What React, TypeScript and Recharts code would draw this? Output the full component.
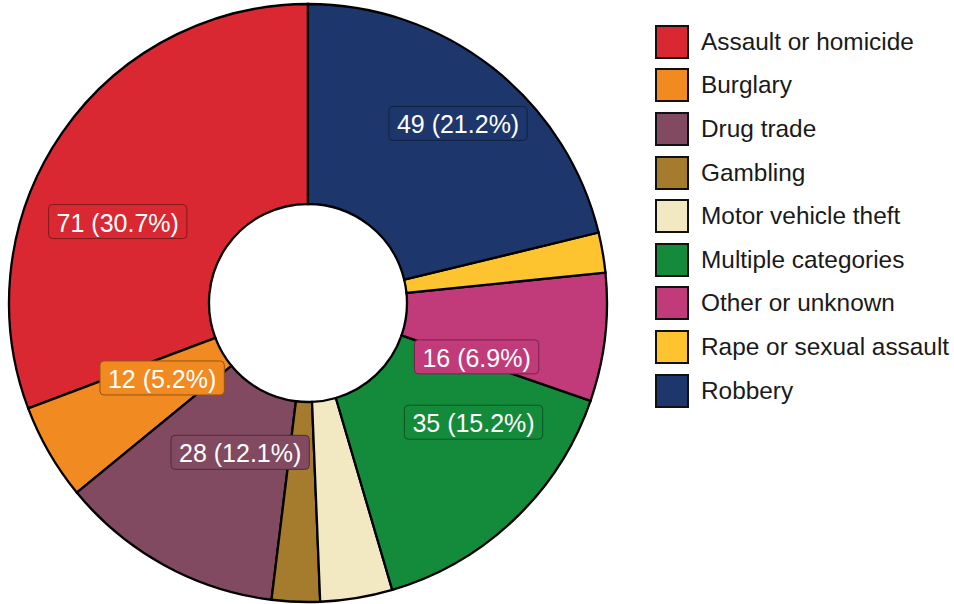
import { Cell, Legend, Pie, PieChart } from "recharts";

const categories = [
  "Assault or homicide",
  "Burglary",
  "Drug trade",
  "Gambling",
  "Motor vehicle theft",
  "Multiple categories",
  "Other or unknown",
  "Rape or sexual assault",
  "Robbery",
];
const counts = [71, 12, 28, 6, 9, 35, 16, 5, 49];
const colors = [
  "#DA2833",
  "#F28A22",
  "#824A61",
  "#A57B2D",
  "#F2E8C2",
  "#138B3A",
  "#C13B7B",
  "#FDC42F",
  "#1D376C",
];

// label nudge (degrees off the slice middle, distance from centre), like a repel pass
const labelNudge = [
  { dAngle: 11.5, r: 207 },
  { dAngle: -2.8, r: 164 },
  { dAngle: 4.4, r: 164 },
  { dAngle: 0, r: 200 },
  { dAngle: 0, r: 200 },
  { dAngle: 10.6, r: 204 },
  { dAngle: -11.1, r: 177 },
  { dAngle: 0, r: 200 },
  { dAngle: -1.7, r: 234 },
];

const total = counts.reduce((a, b) => a + b, 0);
const data = categories.map((name, i) => ({ name, value: counts[i] }));

const FONT = "'Liberation Sans', Arial, sans-serif";
const RAD = Math.PI / 180;

const charW: Record<string, number> = {
  " ": 0.278,
  "(": 0.333,
  ")": 0.333,
  ".": 0.278,
  "%": 0.889,
};
function textWidth(s: string, size: number): number {
  let w = 0;
  for (const ch of s) w += charW[ch] ?? 0.556;
  return w * size;
}

function darken(hex: string, k: number): string {
  const n = parseInt(hex.slice(1), 16);
  const r = Math.round(((n >> 16) & 255) * k);
  const g = Math.round(((n >> 8) & 255) * k);
  const b = Math.round((n & 255) * k);
  return `rgb(${r},${g},${b})`;
}

function renderLabel(props: any) {
  const { cx, cy, midAngle, index, value } = props;
  if (value / total <= 0.05) return null;
  const nudge = labelNudge[index];
  const a = (midAngle + nudge.dAngle) * RAD;
  const x = cx + nudge.r * Math.cos(a);
  const y = cy - nudge.r * Math.sin(a);
  const text = `${value} (${((value / total) * 100).toFixed(1)}%)`;
  const w = textWidth(text, 25) + 16;
  const h = 34;
  return (
    <g key={`lab-${index}`}>
      <rect
        x={x - w / 2}
        y={y - h / 2}
        width={w}
        height={h}
        rx={4}
        fill={colors[index]}
        stroke={darken(colors[index], 0.6)}
        strokeWidth={1}
      />
      <text
        x={x}
        y={y + 1}
        textAnchor="middle"
        dominantBaseline="central"
        fill="#fff"
        fontSize={25}
        fontFamily={FONT}
      >
        {text}
      </text>
    </g>
  );
}

function renderLegend() {
  return (
    <div style={{ fontFamily: FONT }}>
      {categories.map((c, i) => (
        <div
          key={c}
          style={{ display: "flex", alignItems: "center", height: 43.6 }}
        >
          <div
            style={{
              width: 34,
              height: 34,
              boxSizing: "border-box",
              border: "2.5px solid #111",
              background: colors[i],
            }}
          />
          <span style={{ marginLeft: 12, fontSize: 24.4, color: "#1a1a1a" }}>{c}</span>
        </div>
      ))}
    </div>
  );
}

export default function App() {
  return (
    <div style={{ position: "absolute", left: 0, top: 0, background: "#fff" }}>
      <PieChart width={954} height={604} margin={{ top: 0, right: 0, bottom: 0, left: 0 }}>
        <Pie
          data={data}
          dataKey="value"
          nameKey="name"
          cx={308}
          cy={303}
          innerRadius={99}
          outerRadius={299}
          startAngle={90}
          endAngle={450}
          stroke="#000"
          strokeWidth={2.3}
          labelLine={false}
          label={renderLabel}
          isAnimationActive={false}
        >
          {data.map((d, i) => (
            <Cell key={d.name} fill={colors[i]} />
          ))}
        </Pie>
        <Legend
          content={renderLegend}
          wrapperStyle={{ position: "absolute", left: 655, top: 20, width: 300 }}
        />
      </PieChart>
    </div>
  );
}
